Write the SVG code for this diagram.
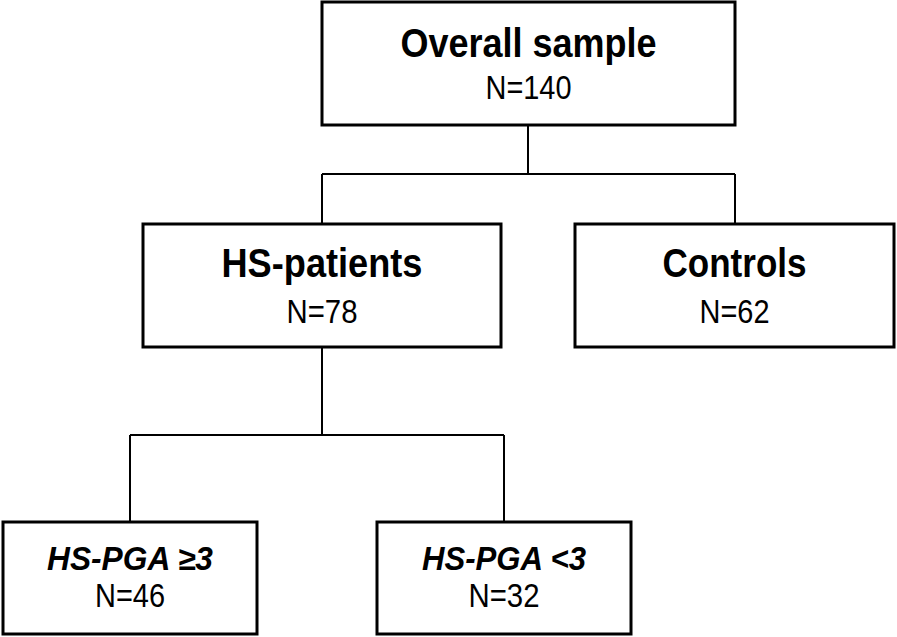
<svg xmlns="http://www.w3.org/2000/svg" width="897" height="637" viewBox="0 0 897 637">
<style>
.box{fill:#fff;stroke:#000;stroke-width:3}
.conn{fill:none;stroke:#000;stroke-width:2}
.t{font-family:"Liberation Sans",Arial,sans-serif;fill:#000;text-anchor:middle}
.h{font-weight:bold;font-size:41px}
.hi{font-weight:bold;font-style:italic;font-size:33px}
.n{font-size:34px}
</style>
<rect width="897" height="637" fill="#fff"/>
<g id="connectors">
<path class="conn" d="M528,125 V174 M322,174 H735 M322,174 V224 M735,174 V224"/>
<path class="conn" d="M322,347 V435 M130,435 H504 M130,435 V522 M504,435 V522"/>
</g>
<g id="overall">
<rect class="box" x="322" y="2" width="413" height="123"/>
<text class="t h" x="528.5" y="57" textLength="256" lengthAdjust="spacingAndGlyphs">Overall sample</text>
<text class="t n" x="528.5" y="99" textLength="86" lengthAdjust="spacingAndGlyphs">N=140</text>
</g>
<g id="hs-patients">
<rect class="box" x="143" y="224" width="358" height="123"/>
<text class="t h" x="322" y="277" textLength="201" lengthAdjust="spacingAndGlyphs">HS-patients</text>
<text class="t n" x="322" y="323" textLength="71" lengthAdjust="spacingAndGlyphs">N=78</text>
</g>
<g id="controls">
<rect class="box" x="575" y="224" width="319" height="123"/>
<text class="t h" x="734.5" y="277" textLength="144" lengthAdjust="spacingAndGlyphs">Controls</text>
<text class="t n" x="734.5" y="323" textLength="70" lengthAdjust="spacingAndGlyphs">N=62</text>
</g>
<g id="pga-high">
<rect class="box" x="3" y="522" width="254" height="112"/>
<text class="t hi" x="130" y="570" textLength="166" lengthAdjust="spacingAndGlyphs">HS-PGA ≥3</text>
<text class="t n" x="130" y="607" textLength="70" lengthAdjust="spacingAndGlyphs">N=46</text>
</g>
<g id="pga-low">
<rect class="box" x="377" y="522" width="254" height="112"/>
<text class="t hi" x="504" y="570" textLength="164" lengthAdjust="spacingAndGlyphs">HS-PGA &lt;3</text>
<text class="t n" x="504" y="607" textLength="71" lengthAdjust="spacingAndGlyphs">N=32</text>
</g>
</svg>
